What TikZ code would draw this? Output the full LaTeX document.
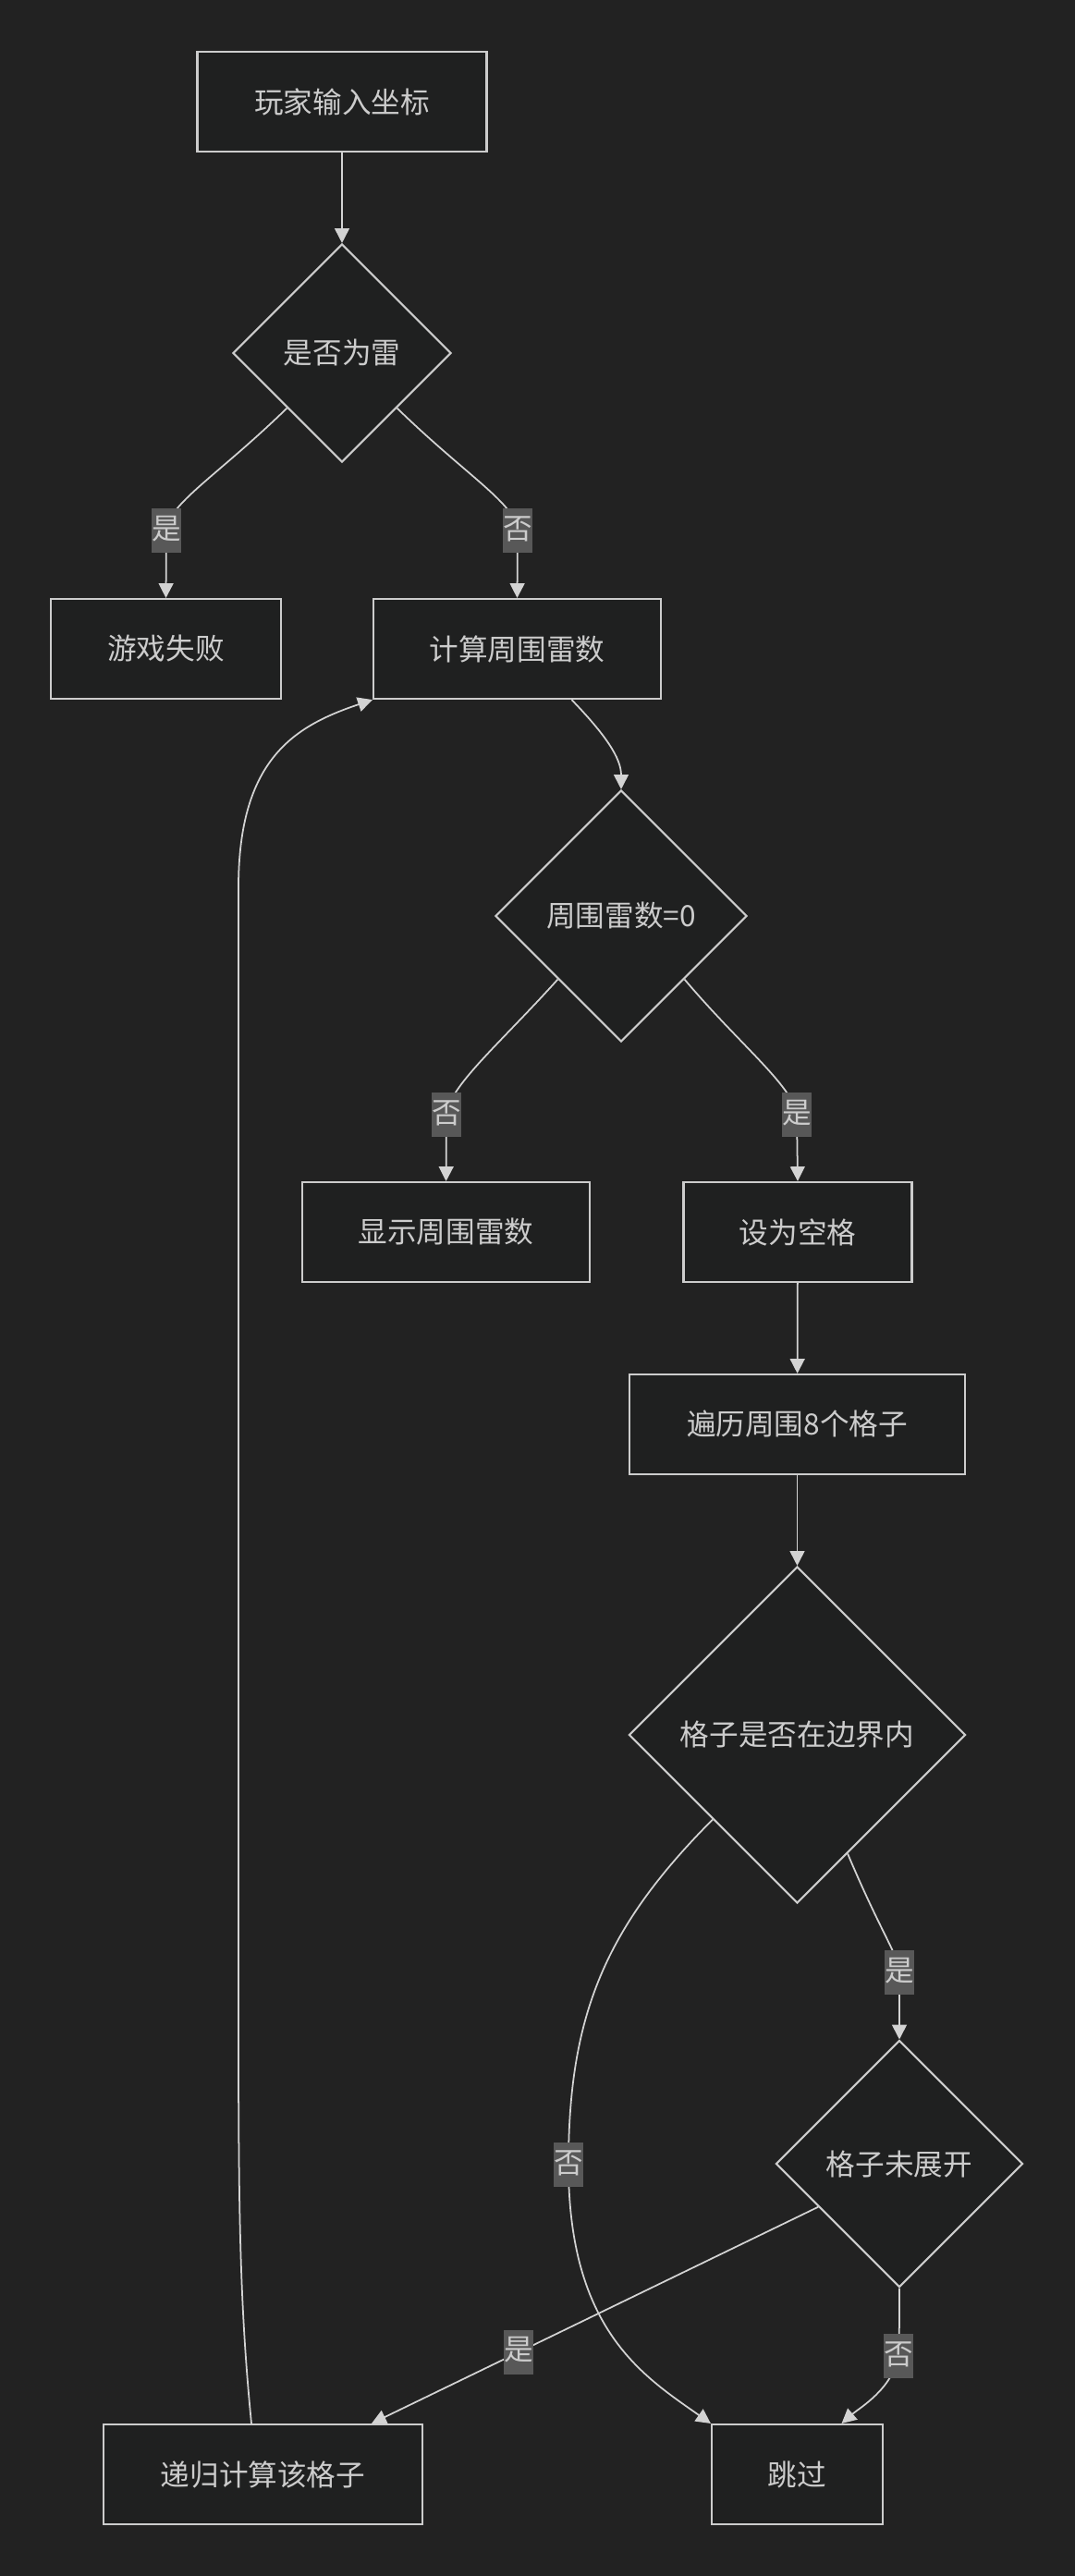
\documentclass[tikz,border=0pt]{standalone}
\usepackage{fontspec}
\setmainfont{Noto Sans CJK SC}
\usepackage{tikz}
\usetikzlibrary{arrows.meta,shapes.geometric}
\definecolor{bgdark}{RGB}{34,34,34}
\definecolor{nodebg}{RGB}{31,32,32}
\definecolor{linegrey}{RGB}{211,211,211}
\definecolor{ink}{RGB}{204,204,204}
\definecolor{tagbg}{RGB}{88,88,88}
\begin{document}
\begin{tikzpicture}[
      >={Triangle[length=4.5pt,width=4.5pt]},
      box/.style={draw=ink,fill=nodebg,line width=0.6pt,minimum height=1.08cm,inner sep=0pt,
                  text=ink,font=\fontsize{9}{11}\selectfont},
      dec/.style={diamond,aspect=1,draw=ink,fill=nodebg,line width=0.6pt,inner sep=0pt,
                  text=ink,font=\fontsize{9}{11}\selectfont},
      flow/.style={->,draw=linegrey,line width=0.5pt},
      lbl/.style={fill=tagbg,text=ink,inner sep=0pt,minimum width=0.32cm,
                  text height=0.333cm,text depth=0.147cm,font=\fontsize{9}{11}\selectfont},
    ]
    \fill[bgdark] (0,0) rectangle (11.63,-27.87);
    \useasboundingbox (0,0) rectangle (11.63,-27.87);
    \node[box,minimum width=3.13cm] (input)  at (3.70,-1.10)   {玩家输入坐标};
    \node[dec,minimum size=2.36cm]  (isMine) at (3.70,-3.82)   {是否为雷};
    \node[box,minimum width=2.49cm] (lose)   at (1.795,-7.02)  {游戏失败};
    \node[box,minimum width=3.11cm] (calc)   at (5.595,-7.02)  {计算周围雷数};
    \node[dec,minimum size=2.72cm]  (zero)   at (6.72,-9.91)   {周围雷数=0};
    \node[box,minimum width=3.11cm] (show)   at (4.826,-13.33) {显示周围雷数};
    \node[box,minimum width=2.47cm] (blank)  at (8.63,-13.33)  {设为空格};
    \node[box,minimum width=3.63cm] (loop)   at (8.625,-15.41) {遍历周围8个格子};
    \node[dec,minimum size=3.64cm]  (inside) at (8.625,-18.77) {格子是否在边界内};
    \node[dec,minimum size=2.67cm]  (closed) at (9.73,-23.41)  {格子未展开};
    \node[box,minimum width=3.45cm] (recur)  at (2.845,-26.77) {递归计算该格子};
    \node[box,minimum width=1.85cm] (skip)   at (8.625,-26.77) {跳过};
    \draw[flow] (input) -- (isMine);
    \draw[flow] (isMine.-135) .. controls (2.35,-5.15) and (1.82,-5.45) .. (1.80,-5.74) node[lbl]{是} -- (lose.north);
    \draw[flow] (isMine.-45) .. controls (5.05,-5.15) and (5.58,-5.45) .. (5.60,-5.74) node[lbl]{否} -- (calc.north);
    \draw[flow] ([xshift=0.59cm]calc.south) .. controls (6.55,-7.95) and (6.72,-8.20) .. (zero.north);
    \draw[flow] (zero.-135) .. controls (5.40,-11.30) and (4.86,-11.75) .. (4.83,-12.06) node[lbl]{否} -- (show.north);
    \draw[flow] (zero.-45) .. controls (8.00,-11.30) and (8.58,-11.75) .. (8.62,-12.06) node[lbl]{是} -- (blank.north);
    \draw[flow] (blank) -- (loop);
    \draw[flow] (loop) -- (inside);
    \draw[flow] (inside.-67) .. controls (9.55,-20.95) and (9.72,-21.15) .. (9.73,-21.34) node[lbl]{是} -- (closed.north);
    \draw[flow] (inside.-135) .. controls (6.55,-20.85) and (6.15,-21.80) .. (6.15,-23.42) node[lbl]{否}
                .. controls (6.15,-25.20) and (6.95,-25.70) .. (skip.north west);
    \draw[flow] (closed.-152) -- ([xshift=1.175cm]recur.north) node[lbl,pos=0.67]{是};
    \draw[flow] (closed.south) .. controls (9.73,-25.20) .. (9.72,-25.49) node[lbl]{否}
                .. controls (9.65,-25.85) and (9.30,-26.05) .. ([xshift=0.48cm]skip.north);
    \draw[flow] ([xshift=-0.125cm]recur.north) .. controls (2.60,-25.00) and (2.58,-24.00) .. (2.58,-22.00)
                -- (2.58,-9.60) .. controls (2.58,-8.20) and (3.20,-7.85) .. (calc.south west);
  \end{tikzpicture}
\end{document}
